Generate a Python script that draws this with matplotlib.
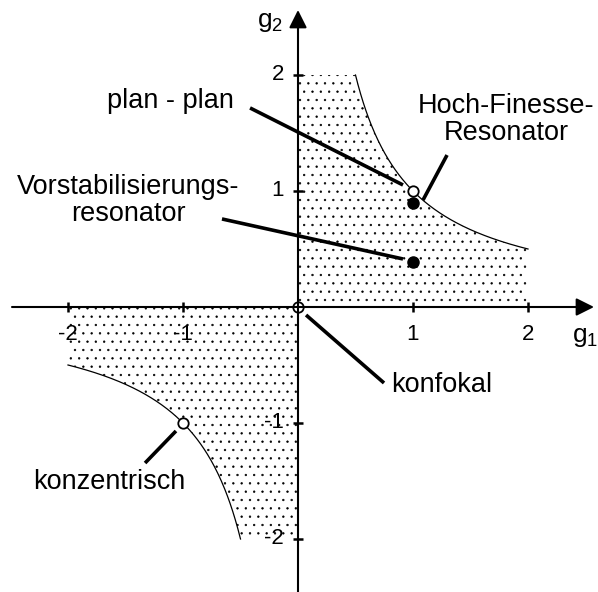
import numpy as np
import matplotlib
matplotlib.use("Agg")
from matplotlib import pyplot as plt

plt.rcParams['font.family'] = ['Liberation Sans', 'DejaVu Sans']
plt.rcParams['mathtext.fontset'] = 'custom'
plt.rcParams['mathtext.rm'] = 'Liberation Sans'
plt.rcParams['mathtext.it'] = 'Liberation Sans'
plt.rcParams['hatch.linewidth'] = 0.45

# resonator configurations in the g1-g2 plane
open_pts_g1 = [1, 0, -1]
open_pts_g2 = [1, 0, -1]
filled_pts_g1 = [1, 1]
filled_pts_g2 = [0.9, 0.39]

tick_vals = [-2, -1, 1, 2]
tick_text = ["-2", "-1", "1", "2"]

# labels: text, text position, end of leader line
labels = [
    ("plan - plan", (-1.11, 1.776), (-0.417, 1.716), (0.913, 1.052)),
    ("Vorstabilisierungs-\nresonator", (-1.478, 0.92), (-0.661, 0.759), (0.913, 0.414)),
    ("Hoch-Finesse-\nResonator", (1.809, 1.62), (1.296, 1.31), (1.087, 0.922)),
    ("konfokal", (1.252, -0.672), (0.748, -0.655), (0.07, -0.069)),
    ("konzentrisch", (-1.643, -1.509), (-1.33, -1.345), (-1.061, -1.069)),
]

fig = plt.figure(figsize=(5.98, 5.92), dpi=100)
ax = fig.add_axes([0, 0, 1, 1])
ax.set_xlim(-298 / 115, 300 / 115)
ax.set_ylim(-285 / 116, 307 / 116)
ax.axis('off')

# stable region: 0 <= g1*g2 <= 1, limited to |g| <= 2
g1p = np.linspace(0, 2, 400)
g1n = np.linspace(-2, 0, 400)
with np.errstate(divide='ignore'):
    top = np.minimum(2, 1 / g1p)
    bot = np.maximum(-2, 1 / g1n)
ax.fill_between(g1p, 0, top, facecolor='none', edgecolor='k', linewidth=0, hatch='..')
ax.fill_between(g1n, bot, 0, facecolor='none', edgecolor='k', linewidth=0, hatch='..')

# hyperbola g1*g2 = 1
h = np.linspace(0.5, 2, 200)
ax.plot(h, 1 / h, color='k', lw=0.9)
ax.plot(-h, -1 / h, color='k', lw=0.9)

# axes with arrows
ax.annotate('', xy=(296 / 115, 0), xytext=(-286 / 115, 0),
            arrowprops=dict(arrowstyle='-|>', mutation_scale=27, lw=1.5, color='k',
                            shrinkA=0, shrinkB=0))
ax.annotate('', xy=(0, 297 / 116), xytext=(0, -290 / 116),
            arrowprops=dict(arrowstyle='-|>', mutation_scale=27, lw=1.5, color='k',
                            shrinkA=0, shrinkB=0))

# ticks
ax.plot(tick_vals, [0] * 4, ls='none', marker='|', ms=7.5, mew=1.8, color='k')
ax.plot([0] * 4, tick_vals, ls='none', marker='_', ms=7.5, mew=1.8, color='k')
for v, t in zip(tick_vals, tick_text):
    ax.text(v, -0.235, t, ha='center', va='center', fontsize=16)
    ax.text(-0.12, v, t, ha='right', va='center', fontsize=16)

ax.text(2.38, -0.26, "g$_1$", ha='left', va='center', fontsize=19)
ax.text(-0.36, 2.46, "g$_2$", ha='left', va='center', fontsize=19)

# leader lines and labels
for text, pos, a, b in labels:
    ax.plot([a[0], b[0]], [a[1], b[1]], color='k', lw=2.6, solid_capstyle='butt')
    ax.text(pos[0], pos[1], text, ha='center', va='center', fontsize=19.5,
            linespacing=1.05)

ax.plot(open_pts_g1, open_pts_g2, ls='none', marker='o', ms=7.5, mfc='white',
        mec='k', mew=1.3)
ax.plot(filled_pts_g1, filled_pts_g2, ls='none', marker='o', ms=8, color='k')

fig.savefig("out.png", dpi=100)
